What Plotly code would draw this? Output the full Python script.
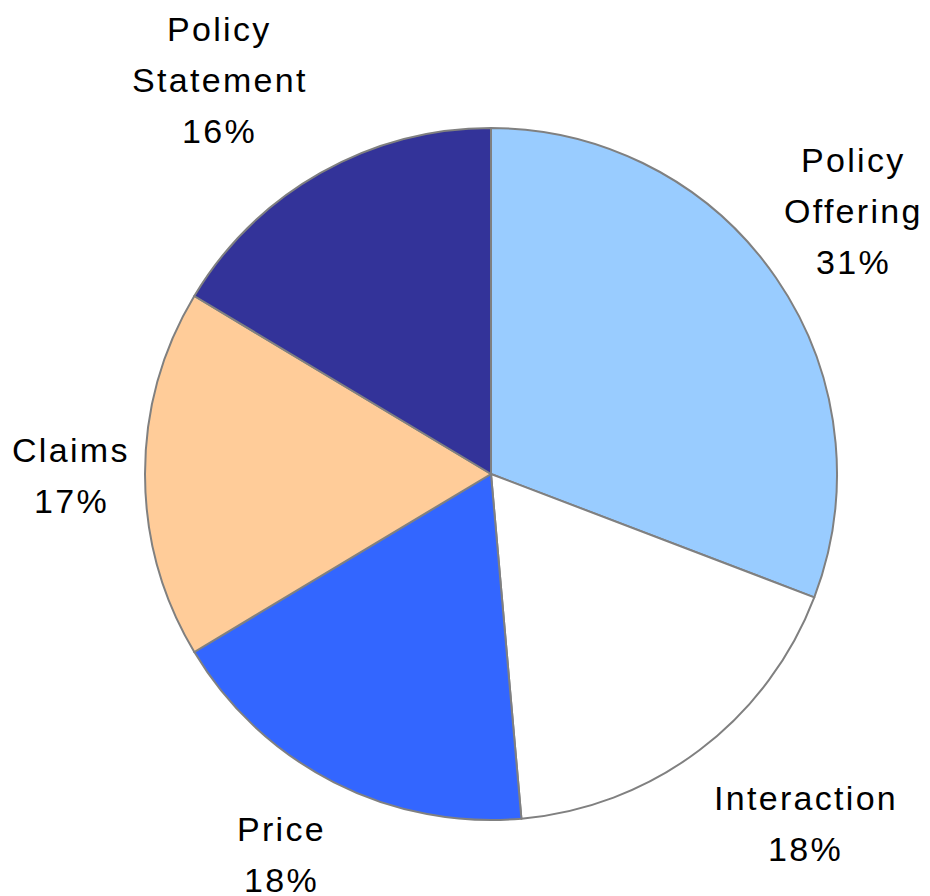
import math
import plotly.graph_objects as go

categories = ["Policy Offering", "Interaction", "Price", "Claims", "Policy Statement"]
label_lines = [["Policy", "Offering"], ["Interaction"], ["Price"], ["Claims"], ["Policy", "Statement"]]
values = [30.8, 17.8, 17.8, 17.2, 16.4]
colors = ["#99CCFF", "#FFFFFF", "#3366FF", "#FFCC99", "#333399"]
# label offsets (pixels) from the rim point at each slice's mid-angle
label_shift = [(76, 67), (105, -73), (-54, -72), (-75, -1), (-102, 93)]

W, H = 930, 896
PAGE_OFF = 8  # browser body margin
cx, cy, r = 491 - PAGE_OFF, 474 - PAGE_OFF, 346
LINE_GAP = 51
SPACING = 2.3

fig = go.Figure(go.Pie(
    labels=categories, values=values, sort=False, direction="clockwise", rotation=0,
    marker=dict(colors=colors, line=dict(color="#808080", width=2)),
    textinfo="none", hoverinfo="label+percent", showlegend=False,
    domain=dict(x=[(cx - r) / W, (cx + r) / W], y=[(H - cy - r) / H, (H - cy + r) / H]),
))

font = dict(family="Liberation Sans, Arial", size=34, color="#000000")
total = sum(values)
cum = 0
for lines, v, (sx, sy) in zip(label_lines, values, label_shift):
    mid = (cum + v / 2) / total * 2 * math.pi
    cum += v
    px = cx + r * math.sin(mid)
    py = cy - r * math.cos(mid)
    all_lines = lines + [f"{round(v / total * 100)}%"]
    n = len(all_lines)
    for i, t in enumerate(all_lines):
        off = ((n - 1) / 2 - i) * LINE_GAP
        fig.add_annotation(
            x=px / W, y=(H - py) / H, xref="paper", yref="paper",
            text=f'<span style="letter-spacing:{SPACING}px">{t}</span>', showarrow=False,
            xshift=sx + SPACING / 2, yshift=sy + off, xanchor="center", yanchor="middle", align="center",
            font=font,
        )

fig.update_layout(width=W, height=H, margin=dict(l=0, r=0, t=0, b=0),
                  paper_bgcolor="white", plot_bgcolor="white")
fig.write_html("out.html")
